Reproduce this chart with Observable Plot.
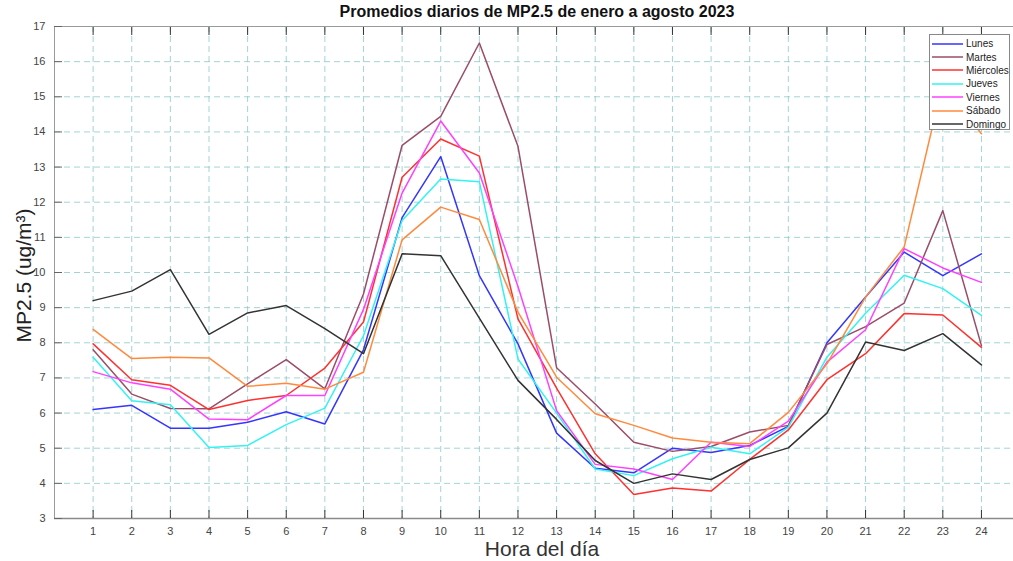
<!DOCTYPE html>
<html>
<head>
<meta charset="utf-8">
<script src="https://cdn.jsdelivr.net/npm/d3@7"></script>
<script src="https://cdn.jsdelivr.net/npm/@observablehq/plot@0.6"></script>
<style>
  body { margin: 0; background: #fff; font-family: "Liberation Sans", Arial, sans-serif; }
  #wrap { position: relative; width: 1013px; height: 561px; overflow: hidden; }
  #title { position: absolute; top: 3px; left: 0; width: 1074px; text-align: center;
           font-weight: bold; font-size: 16px; color: #111; }
  #legend { position: absolute; left: 929px; top: 34px; width: 81px; height: 96px;
            box-sizing: border-box; background: #fff; border: 1px solid #888;
            padding-top: 2px; }
  #legend .row { display: flex; align-items: center; height: 13.4px; font-size: 10px; color: #222; }
  #legend svg { margin-left: 2px; margin-right: 3px; }
</style>
</head>
<body>
<div id="wrap">
  <div id="title">Promedios diarios de MP2.5 de enero a agosto 2023</div>
  <div id="chart"></div>
  <div id="legend"></div>
</div>
<script>
// Hourly averages of PM2.5 by weekday
const hours = d3.range(1, 25);
const yTicks = d3.range(3, 18);
const days = ["Lunes", "Martes", "Miércoles", "Jueves", "Viernes", "Sábado", "Domingo"];
const colors = ["#3535ff", "#9a4d69", "#ff3030", "#33f2f2", "#ff40ff", "#ff8a3d", "#333333"];

const lunes     = [6.10, 6.22, 5.57, 5.57, 5.74, 6.04, 5.69, 7.80, 11.56, 13.30, 9.91, 7.97, 5.43, 4.43, 4.30, 5.00, 4.88, 5.08, 5.62, 8.00, 9.30, 10.58, 9.91, 10.53];
const martes    = [7.80, 6.54, 6.13, 6.12, 6.83, 7.52, 6.69, 9.39, 13.62, 14.44, 16.53, 13.59, 7.29, 6.26, 5.17, 4.91, 5.05, 5.46, 5.65, 7.95, 8.46, 9.13, 11.76, 7.92];
const miercoles = [7.97, 6.95, 6.79, 6.10, 6.36, 6.50, 7.28, 8.59, 12.71, 13.80, 13.31, 8.68, 6.71, 4.84, 3.68, 3.87, 3.78, 4.68, 5.52, 6.95, 7.69, 8.83, 8.79, 7.87];
const jueves    = [7.59, 6.35, 6.24, 5.02, 5.08, 5.67, 6.14, 8.20, 11.48, 12.66, 12.58, 7.54, 6.00, 4.41, 4.22, 4.70, 5.03, 4.84, 5.60, 7.59, 8.84, 9.92, 9.54, 8.78];
const viernes   = [7.18, 6.86, 6.68, 5.83, 5.81, 6.50, 6.50, 8.95, 12.26, 14.31, 12.83, 9.60, 6.07, 4.54, 4.41, 4.11, 5.17, 5.05, 5.77, 7.45, 8.37, 10.68, 10.13, 9.72];
const sabado    = [8.38, 7.55, 7.59, 7.57, 6.76, 6.85, 6.68, 7.16, 10.93, 11.86, 11.51, 8.87, 7.02, 5.98, 5.65, 5.29, 5.17, 5.13, 6.02, 7.40, 9.30, 10.73, 15.40, 13.95];
const domingo   = [9.20, 9.47, 10.08, 8.24, 8.85, 9.06, 8.40, 7.69, 10.53, 10.48, 8.70, 6.93, 5.82, 4.65, 4.00, 4.27, 4.11, 4.68, 5.01, 6.00, 8.02, 7.78, 8.26, 7.37];

const series = [lunes, martes, miercoles, jueves, viernes, sabado, domingo];
const rows = days.flatMap((dia, i) => series[i].map((valor, j) => ({ dia, hora: hours[j], valor })));

const gridStyle = { stroke: "#84c6c6", strokeOpacity: 0.75, strokeDasharray: "6,4", strokeWidth: 1 };
const blank = () => "";

const chart = Plot.plot({
  width: 1013,
  height: 561,
  marginTop: 26,
  marginBottom: 43,
  marginLeft: 54,
  marginRight: 0,
  style: { fontFamily: "Liberation Sans, Arial, sans-serif", fontSize: "11px", color: "#444", background: "white" },
  x: { domain: [0, 24.83] },
  y: { domain: [3, 17] },
  color: { domain: days, range: colors },
  marks: [
    Plot.gridX(hours, gridStyle),
    Plot.gridY(yTicks, gridStyle),
    Plot.frame({ stroke: "#9a9a9a" }),
    Plot.line(rows, { x: "hora", y: "valor", z: "dia", stroke: "dia", strokeWidth: 1.5 }),
    Plot.ruleY([3], { stroke: "#8a8a8a", strokeWidth: 1.5 }),
    Plot.axisX(hours, { anchor: "bottom", tickSize: 0, tickPadding: 9, label: null, fill: "#444" }),
    Plot.axisX(hours, { anchor: "bottom", tickSize: -8, tickFormat: blank, label: null, stroke: "#333" }),
    Plot.axisX(hours, { anchor: "top", tickSize: -8, tickFormat: blank, label: null, stroke: "#333" }),
    Plot.axisY(yTicks, { anchor: "left", tickSize: 0, tickPadding: 9, label: null, fill: "#444" }),
    Plot.axisY(yTicks, { anchor: "left", tickSize: -8, tickFormat: blank, label: null, stroke: "#666" }),
    Plot.text(["Hora del día"], { text: d => d, frameAnchor: "bottom", textAnchor: "middle", dx: 8, dy: 37, fontSize: 21, fill: "#333" }),
    Plot.text(["MP2.5 (ug/m³)"], { text: d => d, frameAnchor: "left", textAnchor: "middle", rotate: -90, dx: -30, dy: 3, fontSize: 21, fill: "#222" })
  ]
});
document.getElementById("chart").appendChild(chart);

// Legend box in the upper right corner
const legend = d3.select("#legend");
days.forEach((dia, i) => {
  const row = legend.append("div").attr("class", "row");
  const sw = row.append("svg").attr("width", 31).attr("height", 6);
  sw.append("line").attr("x1", 0).attr("x2", 31).attr("y1", 3).attr("y2", 3)
    .attr("stroke", colors[i]).attr("stroke-width", 1.5);
  row.append("span").text(dia);
});
</script>
</body>
</html>
